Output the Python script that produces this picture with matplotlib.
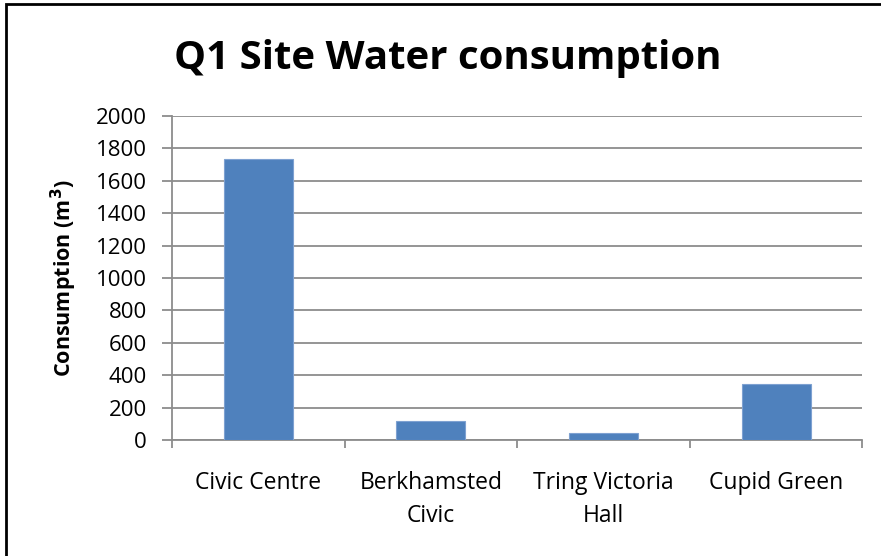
import numpy as np
import matplotlib
matplotlib.use("Agg")
import matplotlib.pyplot as plt
from matplotlib.patches import Rectangle

# data
sites = ["Civic Centre", "Berkhamsted\nCivic", "Tring Victoria\nHall", "Cupid Green"]
consumption = [1736, 119, 43, 344]
yticks = list(range(0, 2001, 200))

plt.rcParams['font.family'] = ['Open Sans', 'DejaVu Sans']

fig = plt.figure(figsize=(8.81, 5.56), dpi=100)
ax = fig.add_axes([0.1952, 0.2086, 0.979 - 0.1952, 0.7914 - 0.2086])

x = np.arange(len(sites))
ax.bar(x, consumption, width=0.4, color="#4F81BD", edgecolor="#7EA1D1", linewidth=0.8, zorder=3)

ax.set_xlim(-0.5, len(sites) - 0.5)
ax.set_ylim(0, 2000)
ax.set_yticks(yticks)
ax.yaxis.grid(True, color="#8C8C8C", linewidth=1.3, zorder=0)

ax.set_xticks(x)
ax.set_xticklabels(sites, fontsize=16.5, linespacing=1.5)
ax.set_xticks(np.arange(len(sites) + 1) - 0.5, minor=True)
ax.tick_params(axis='x', which='major', length=0, pad=22)
ax.tick_params(axis='x', which='minor', length=6, width=1.3, color="#8C8C8C")
ax.tick_params(axis='y', labelsize=16, length=7, width=1.3, color="#8C8C8C", pad=11)

for side in ["top", "right"]:
    ax.spines[side].set_visible(False)
for side in ["left", "bottom"]:
    ax.spines[side].set_color("#8C8C8C")
    ax.spines[side].set_linewidth(1.3)

ax.set_ylabel("Consumption (m$^\\mathbf{3}$)", fontsize=15.5, fontweight="bold", labelpad=12)
fig.text(0.508, 0.894, "Q1 Site Water consumption", fontsize=29, fontweight="bold",
         ha="center", va="center")

# chart border
fig.patches.append(Rectangle((6 / 881, -0.1), 1.1, 1.1 - 4 / 556, transform=fig.transFigure,
                             fill=False, edgecolor="black", linewidth=2))

fig.savefig("out.png", dpi=100)
